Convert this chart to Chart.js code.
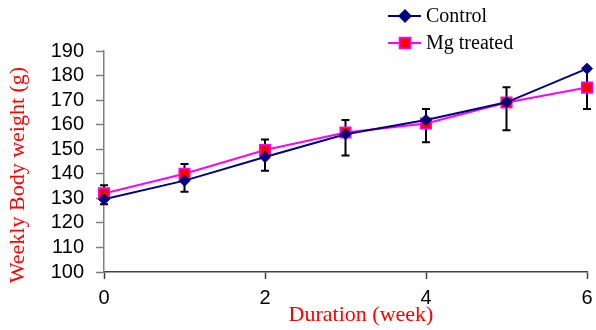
<!DOCTYPE html>
<html>
<head>
<meta charset="utf-8">
<script src="https://cdn.jsdelivr.net/npm/chart.js@4.4.1/dist/chart.umd.min.js"></script>
<style>
    body { margin: 0; background: #fff; }
    canvas { display: block; }
</style>
</head>
<body>
<canvas id="weightChart" width="596" height="330"></canvas>
<script>
// values (weekly body weight, g)
const weeks = [0, 1, 2, 3, 4, 5, 6];
const control = [129.6, 137.2, 146.8, 156.1, 161.9, 169.1, 182.8];
const mgTreated = [132.0, 140.0, 149.7, 156.8, 160.5, 169.0, 175.1];
// error bar ends (g)
const errTop = [135.3, 144.0, 154.0, 161.9, 166.4, 175.2, 182.8];
const errBottom = [127.6, 132.7, 141.2, 147.4, 152.8, 157.7, 166.4];
const seriesNames = ['Control', 'Mg treated'];
const xTitle = 'Duration (week)';
const yTitle = 'Weekly Body weight (g)';

const serif = "'Liberation Serif', 'Times New Roman', serif";
const sans = "'Liberation Sans', Arial, sans-serif";

// vertical error bars, drawn under the markers
const errorBars = {
    id: 'errorBars',
    beforeDatasetsDraw(chart) {
        const { ctx, scales: { x, y } } = chart;
        ctx.save();
        ctx.strokeStyle = '#000';
        ctx.lineWidth = 2;
        weeks.forEach((w, i) => {
            const px = x.getPixelForValue(w);
            const top = y.getPixelForValue(errTop[i]);
            const bot = y.getPixelForValue(errBottom[i]);
            ctx.beginPath();
            ctx.moveTo(px, top); ctx.lineTo(px, bot);
            ctx.moveTo(px - 4, top); ctx.lineTo(px + 4, top);
            ctx.moveTo(px - 4, bot); ctx.lineTo(px + 4, bot);
            ctx.stroke();
        });
        ctx.restore();
    }
};

// axis titles and the legend in the top right corner, placed like the Excel figure
const decorations = {
    id: 'decorations',
    afterDraw(chart) {
        const ctx = chart.ctx;
        ctx.save();
        ctx.font = '22px ' + serif;
        ctx.fillStyle = '#ff0000';
        ctx.textAlign = 'center';
        ctx.textBaseline = 'middle';
        ctx.fillText(xTitle, 361, 315);
        ctx.translate(18, 175);
        ctx.rotate(-Math.PI / 2);
        ctx.fillText(yTitle, 0, 0);
        ctx.restore();

        ctx.save();
        chart.data.datasets.forEach((ds, i) => {
            const y = 16 + i * 27;
            ctx.strokeStyle = ds.borderColor;
            ctx.lineWidth = 2;
            ctx.beginPath();
            ctx.moveTo(388, y); ctx.lineTo(421, y);
            ctx.stroke();
            Chart.helpers.drawPoint(ctx, {
                pointStyle: ds.pointStyle,
                radius: ds.pointRadius,
                borderWidth: ds.pointBorderWidth
            }, 405, y);
            ctx.fillStyle = ds.pointBackgroundColor;
            ctx.strokeStyle = ds.pointBorderColor;
            ctx.lineWidth = ds.pointBorderWidth;
            ctx.fill();
            ctx.stroke();
            ctx.fillStyle = '#000';
            ctx.font = '20px ' + serif;
            ctx.textBaseline = 'middle';
            ctx.fillText(ds.label, 426, y + 1);
        });
        ctx.restore();
    }
};

new Chart(document.getElementById('weightChart'), {
    type: 'line',
    data: {
        datasets: [{
            label: seriesNames[0],
            data: weeks.map((w, i) => ({ x: w, y: control[i] })),
            borderColor: '#000080',
            borderWidth: 2,
            pointStyle: 'rectRot',
            pointRadius: 5.5,
            pointBackgroundColor: '#000080',
            pointBorderColor: '#000080',
            pointBorderWidth: 1,
            tension: 0
        }, {
            label: seriesNames[1],
            data: weeks.map((w, i) => ({ x: w, y: mgTreated[i] })),
            borderColor: '#ff00ff',
            borderWidth: 2,
            pointStyle: 'rect',
            pointRadius: 7.5,
            pointBackgroundColor: '#ff0000',
            pointBorderColor: '#ff00ff',
            pointBorderWidth: 1.5,
            tension: 0
        }]
    },
    options: {
        responsive: false,
        animation: false,
        clip: false,
        layout: { padding: { top: 51, right: 0, left: 0, bottom: 0 } },
        plugins: {
            legend: { display: false },
            tooltip: { enabled: false }
        },
        scales: {
            x: {
                type: 'linear',
                min: 0,
                max: 6,
                afterFit(scale) {
                    scale.height = 58;
                    scale.paddingRight = 5;
                },
                ticks: {
                    stepSize: 2,
                    color: '#000',
                    padding: 7,
                    font: { family: sans, size: 20 }
                },
                grid: { drawOnChartArea: false, tickLength: 7, tickColor: '#404040', tickWidth: 1.5 },
                border: { color: '#404040', width: 1.5 }
            },
            y: {
                min: 100,
                max: 190,
                afterFit(scale) { scale.width = 104; },
                ticks: {
                    stepSize: 10,
                    autoSkip: false,
                    color: '#000',
                    padding: 12,
                    font: { family: sans, size: 20 }
                },
                grid: { drawOnChartArea: false, tickLength: 8, tickColor: '#808080', tickWidth: 1.5 },
                border: { color: '#808080', width: 1.5 }
            }
        }
    },
    plugins: [errorBars, decorations]
});
</script>
</body>
</html>
